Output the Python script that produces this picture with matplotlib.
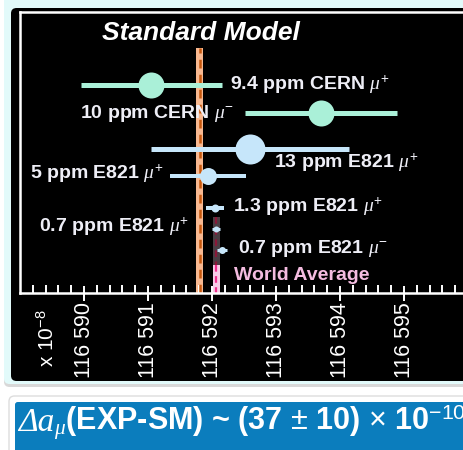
import numpy as np
import matplotlib
matplotlib.use("Agg")
from matplotlib import pyplot as plt
from matplotlib.patches import FancyBboxPatch, Rectangle

plt.rcParams['font.family'] = ['Liberation Sans', 'DejaVu Sans']
plt.rcParams['mathtext.fontset'] = 'custom'
plt.rcParams['mathtext.rm'] = 'Liberation Sans'
plt.rcParams['mathtext.it'] = 'Liberation Serif:italic'
plt.rcParams['mathtext.bf'] = 'Liberation Sans:bold'

# measurements, a_mu in units of 1e-8 (x 10^-8)
labels = ["9.4 ppm CERN $\\mu^{+}$", "10 ppm CERN $\\mu^{-}$", "13 ppm E821 $\\mu^{+}$",
          "5 ppm E821 $\\mu^{+}$", "1.3 ppm E821 $\\mu^{+}$", "0.7 ppm E821 $\\mu^{+}$",
          "0.7 ppm E821 $\\mu^{-}$"]
values = [116591.05, 116593.70, 116592.59, 116591.94, 116592.05, 116592.06, 116592.16]
errors = [1.10, 1.19, 1.55, 0.59, 0.14, 0.06, 0.08]
experiment = ["CERN", "CERN", "E821", "E821", "E821", "E821", "E821"]

sm_value, sm_err = 116591.81, 0.055
wa_value, wa_err = 116592.07, 0.05

tick_values = [116590, 116591, 116592, 116593, 116594, 116595]
tick_labels = ["116 590", "116 591", "116 592", "116 593", "116 594", "116 595"]

# layout (rows measured from top of picture)
rows = [85, 113, 149, 176, 208, 229, 250]
marker_px = [26, 26, 30, 17, 8, 6, 7]
bar_px = [5, 5, 5, 4, 4, 3, 3]
label_x = [116592.28, 116592.35, 116592.97, 116591.25, 116592.33, 116591.64, 116592.40]
label_y = [85, 113, 163, 174, 207, 227, 248]
label_ha = ["left", "right", "left", "right", "left", "right", "left"]
colors = {"CERN": "#aaf0d8", "E821": "#c6e6fa"}

W, H = 464, 450
fig = plt.figure(figsize=(W / 100, H / 100), dpi=100)
fig.patch.set_facecolor("white")

def fbox(x0, y0, x1, y1):
    return [x0 / W, 1 - y1 / H, (x1 - x0) / W, (y1 - y0) / H]

def panel(x0, y0, x1, y1, r, **kw):
    b = fbox(x0, y0, x1, y1)
    fig.patches.append(FancyBboxPatch((b[0], b[1]), b[2], b[3],
                                      boxstyle="round,pad=0,rounding_size=%g" % r,
                                      transform=fig.transFigure, zorder=-10, **kw))

# backdrop panels
panel(4, -20, 520, 387, 0.012, fc="#d8d8d8", ec="none")
panel(4, -20, 520, 384, 0.012, fc="#e2fafa", ec="none")
panel(11, 8, 520, 381, 0.012, fc="black", ec="none")
panel(9, 396, 520, 470, 0.012, fc="white", ec="#dddddd", lw=1)
panel(15, 402, 520, 470, 0.006, fc="#0b7dbd", ec="none")

ax = fig.add_axes(fbox(20, 12, 490, 293))
ax.set_zorder(5)
ax.set_facecolor("black")
ax.set_xlim(116589.0, 116589.0 + 470 / 64)
ax.set_ylim(293, 12)

# standard model band
ax.add_patch(Rectangle((sm_value - sm_err, 48), 2 * sm_err, 245, fc="#f8b890", ec="none", zorder=1))
ax.plot([sm_value, sm_value], [293, 48], color="#c8580c", lw=1.8, dashes=(3.5, 2.5), zorder=2)

# world average band
ax.add_patch(Rectangle((wa_value - wa_err, 217), 2 * wa_err, 48, fc="#4a3e44", ec="none", zorder=1))
ax.plot([wa_value, wa_value], [217, 265], color="#8a1838", lw=1.6, dashes=(3, 2), zorder=2)
ax.add_patch(Rectangle((wa_value - wa_err, 265), 2 * wa_err, 28, fc="#f8cce8", ec="none", zorder=1))
ax.plot([wa_value, wa_value], [265, 293], color="#f0308c", lw=1.6, dashes=(3, 2), zorder=2)

for i in range(len(values)):
    c = colors[experiment[i]]
    ax.plot([values[i] - errors[i], values[i] + errors[i]], [rows[i], rows[i]],
            color=c, lw=bar_px[i] * 0.72, solid_capstyle="butt", zorder=3)
    ax.plot(values[i], rows[i], "o", ms=marker_px[i] * 0.72, color=c, mec="none", zorder=4)
    ax.text(label_x[i], label_y[i], labels[i], ha=label_ha[i], va="center", color="#eeeef6",
            fontsize=14, fontweight="bold", zorder=5)

ax.text(wa_value + 0.28, 275, "World Average", ha="left", va="center", color="#f4bce0",
        fontsize=14, fontweight="bold", zorder=5)
ax.text(116591.82, 33, "Standard Model", ha="center", va="center", color="white",
        fontsize=19, fontweight="bold", style="italic", zorder=5)

# axes frame and ticks
for s in ["left", "top", "bottom"]:
    ax.spines[s].set_color("white")
    ax.spines[s].set_linewidth(1.8)
ax.spines["right"].set_visible(False)
ax.set_yticks([])
ax.set_xticks(tick_values)
ax.set_xticklabels(tick_labels, rotation=90, va="top", fontsize=15.5, color="white")
ax.set_xticks(np.arange(116589.2, 116596.4, 0.2), minor=True)
ax.tick_params(axis="x", which="major", direction="inout", length=15 * 0.72, width=1.4,
               color="white", pad=1)
ax.tick_params(axis="x", which="minor", direction="in", length=8 * 0.72, width=1.4, color="white")
ax.text(116589.42, -16 / 281, "x 10$^{-8}$", transform=ax.get_xaxis_transform(), rotation=90,
        ha="center", va="top", color="white", fontsize=15)

# bottom banner: italic serif "Δa" then the rest
t1 = fig.text(18 / W, 1 - 431 / H, "Δa", ha="left", va="baseline", color="white",
              fontsize=24, family="Liberation Serif", style="italic")
r = fig.canvas.get_renderer()
x_end = t1.get_window_extent(r).x1
fig.text(x_end / W, 1 - 431 / H, "$_{\\mu}$(EXP-SM) ~ (37 $\\pm$ 10) $\\times$ 10$^{-10}$",
         ha="left", va="baseline", color="white", fontsize=22, fontweight="bold")

fig.savefig("out.png", dpi=100)
